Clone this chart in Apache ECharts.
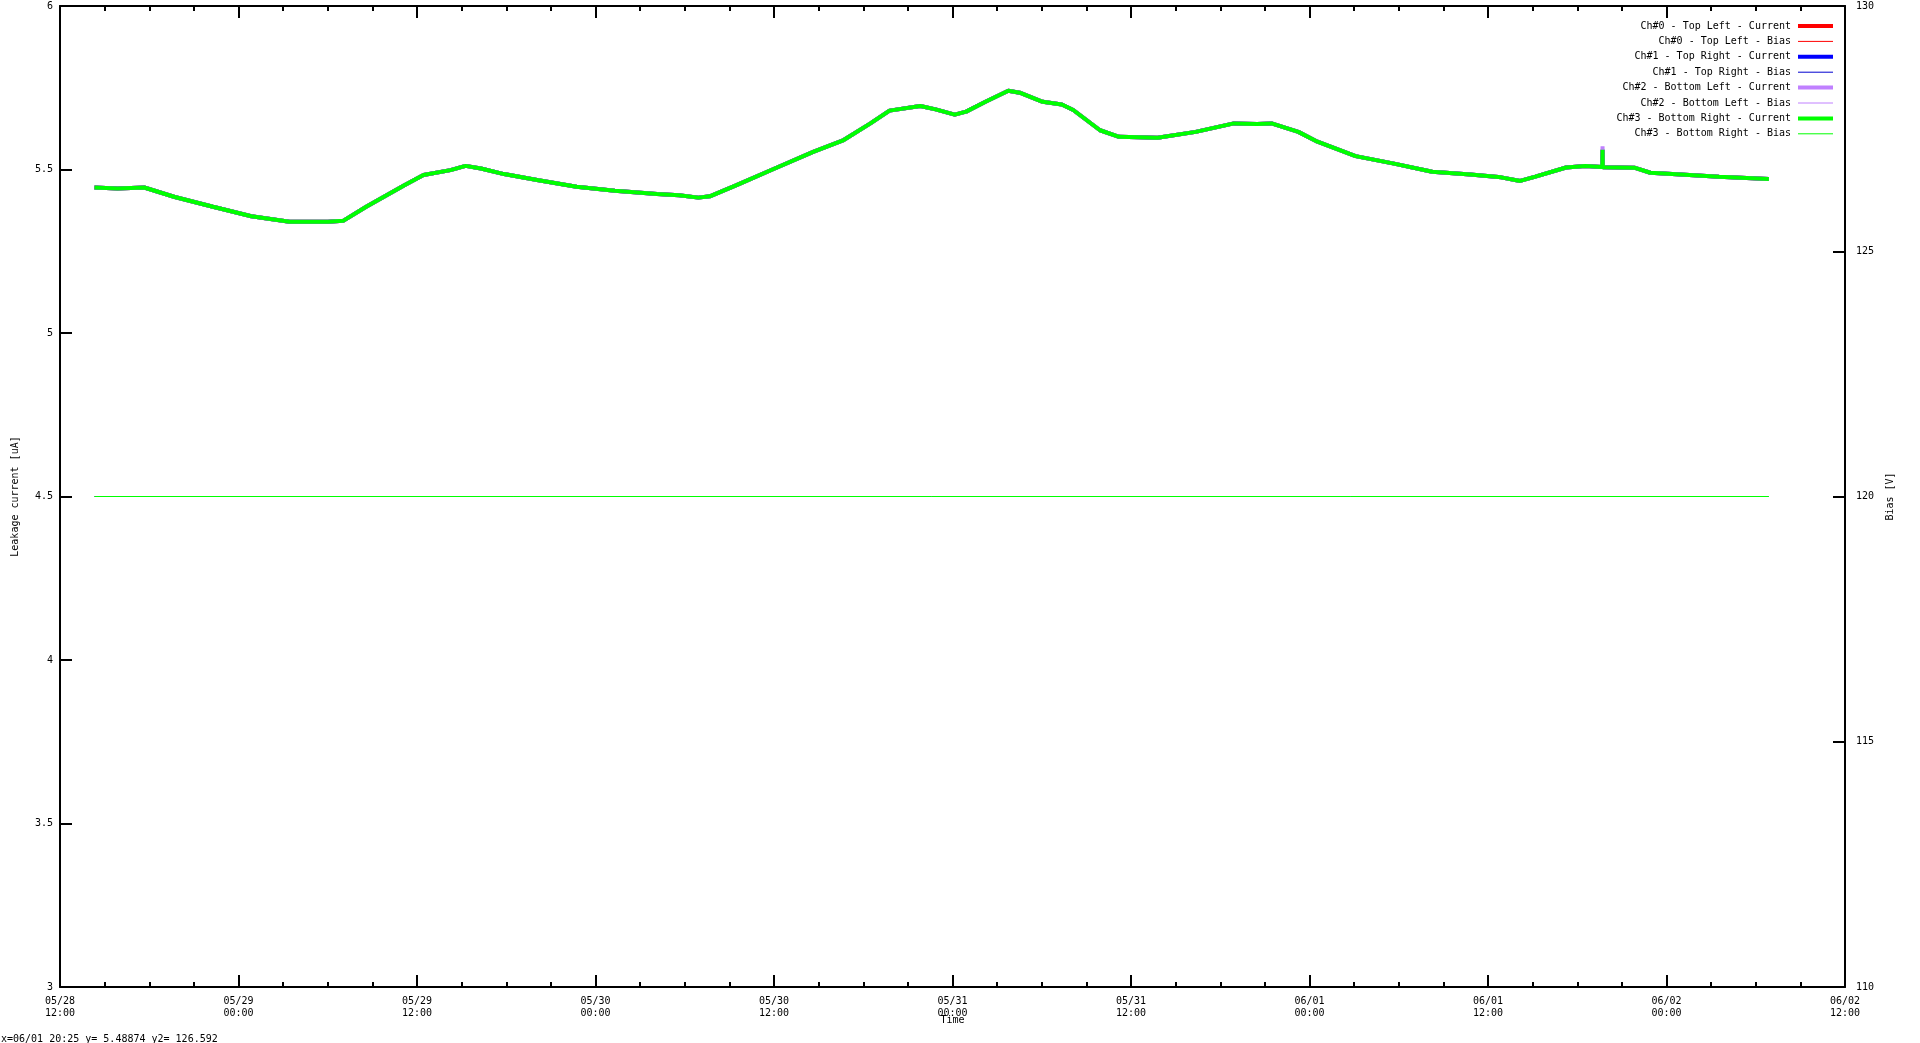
<!DOCTYPE html>
<html><head><meta charset="utf-8">
<script src="https://cdn.jsdelivr.net/npm/echarts@6/dist/echarts.min.js"></script>
<style>html,body{margin:0;padding:0;background:#fff}#c{width:1920px;height:1043px}</style>
</head><body><div id="c"></div>
<script>
const YEAR = 2023;
const xRange = ["05/28 12:00", "06/02 12:00"];
const leftTicks = {min: 3, max: 6, interval: 0.5};
const rightTicks = {min: 110, max: 130, interval: 5};
const seriesNames = [
  "Ch#0 - Top Left - Current", "Ch#0 - Top Left - Bias",
  "Ch#1 - Top Right - Current", "Ch#1 - Top Right - Bias",
  "Ch#2 - Bottom Left - Current", "Ch#2 - Bottom Left - Bias",
  "Ch#3 - Bottom Right - Current", "Ch#3 - Bottom Right - Bias"
];
const seriesColors = ["#ff0000","#ff0000","#0000ff","#0000d0","#c080ff","#c080ff","#00ff00","#00ff00"];
const currentTimes = [
"05/28 14:19","05/28 15:52","05/28 17:40","05/28 19:43","05/28 22:17","05/29 00:52","05/29 03:26","05/29 06:01",
"05/29 07:02","05/29 08:35","05/29 11:09","05/29 12:26","05/29 14:15","05/29 15:16","05/29 16:18","05/29 17:51",
"05/29 20:10","05/29 22:44","05/30 01:18","05/30 04:08","05/30 05:37","05/30 06:55","05/30 07:41","05/30 09:29",
"05/30 12:03","05/30 14:38","05/30 16:41","05/30 18:29","05/30 19:46","05/30 21:50","05/30 22:52","05/31 00:09",
"05/31 00:55","05/31 02:13","05/31 03:45","05/31 04:31","05/31 06:04","05/31 07:21","05/31 08:07","05/31 09:55",
"05/31 11:12","05/31 13:47","05/31 16:21","05/31 18:55","05/31 20:28","05/31 21:27","05/31 23:15","06/01 00:32",
"06/01 03:06","06/01 05:41","06/01 08:15","06/01 10:49","06/01 12:53","06/01 14:10","06/01 15:11","06/01 17:15",
"06/01 18:32","06/01 19:41","06/01 19:42","06/01 19:43","06/01 21:53","06/01 22:55","06/02 00:58","06/02 03:32",
"06/02 06:53"];
const currentValues = [
5.445,5.442,5.445,5.416,5.386,5.357,5.340,5.340,
5.343,5.386,5.452,5.483,5.498,5.511,5.503,5.486,
5.467,5.447,5.435,5.425,5.421,5.414,5.418,5.452,
5.503,5.554,5.590,5.641,5.680,5.694,5.684,5.668,
5.677,5.707,5.741,5.735,5.707,5.699,5.682,5.620,
5.600,5.597,5.615,5.641,5.639,5.641,5.615,5.585,
5.541,5.518,5.493,5.485,5.476,5.465,5.478,5.506,
5.511,5.508,5.560,5.507,5.505,5.490,5.485,5.478,
5.471];
const ch2SpikeTime = "06/01 19:42";
const ch2SpikeValue = 5.571;
const biasTimes = ["05/28 14:19", "06/02 06:53"];
const biasValues = [120, 120];
const cursorText = "x=06/01 20:25 y= 5.48874 y2= 126.592";

function parseT(s) {
  const m = s.match(/(\d+)\/(\d+) (\d+):(\d+)/);
  return Date.UTC(YEAR, +m[1]-1, +m[2], +m[3], +m[4]);
}
function pad(n){return (n<10?'0':'')+n;}
function fmtX(v) {
  const d = new Date(v);
  return pad(d.getUTCMonth()+1)+'/'+pad(d.getUTCDate())+'\n'+pad(d.getUTCHours())+':'+pad(d.getUTCMinutes());
}
const FONT = '"DejaVu Sans Mono", monospace';
const H12 = 12*3600*1000;
const xMin = parseT(xRange[0]), xMax = parseT(xRange[1]);

const series = [];
for (let ch = 0; ch < 4; ch++) {
  const curName = seriesNames[ch*2], biasName = seriesNames[ch*2+1];
  const curData = currentTimes.map((t,i) => [parseT(t), (ch===2 && t===ch2SpikeTime) ? ch2SpikeValue : currentValues[i]]);
  series.push({name: curName, type:'line', xAxisIndex:0, yAxisIndex:0, data: curData, symbol:'none', showSymbol:false,
    lineStyle:{width:4, color: seriesColors[ch*2]}, itemStyle:{color: seriesColors[ch*2]}, silent:true, animation:false});
  series.push({name: biasName, type:'line', xAxisIndex:0, yAxisIndex:1, data: biasTimes.map((t,i)=>[parseT(t), biasValues[i]]),
    symbol:'none', showSymbol:false, lineStyle:{width:1, color: seriesColors[ch*2+1]}, itemStyle:{color: seriesColors[ch*2+1]}, silent:true, animation:false});
}

const axisLine = {show:true, onZero:false, lineStyle:{color:'#000', width:2}};
const tick = {show:true, inside:true, length:12, lineStyle:{color:'#000', width:2}};
const chart = echarts.init(document.getElementById('c'), null, {renderer:'canvas'});
chart.setOption({
  animation:false,
  backgroundColor:'#fff',
  grid:{left:60, right:75, top:6, bottom:56, containLabel:false},
  xAxis:[
    {type:'value', min:xMin, max:xMax, interval:H12, position:'bottom', axisLine, axisTick:tick,
     minorTick:{show:true, splitNumber:4, length:5, lineStyle:{color:'#000', width:2}},
     splitLine:{show:false}, minorSplitLine:{show:false},
     axisLabel:{formatter:fmtX, fontFamily:FONT, fontSize:10, color:'#000', lineHeight:12, margin:8},
     name:'Time', nameLocation:'middle', nameGap:28, nameMoveOverlap:false, nameTextStyle:{fontFamily:FONT, fontSize:10, color:'#000'}},
    {type:'value', min:xMin, max:xMax, interval:H12, position:'top', axisLine, axisTick:tick,
     minorTick:{show:true, splitNumber:4, length:5, lineStyle:{color:'#000', width:2}},
     splitLine:{show:false}, axisLabel:{show:false}}
  ],
  yAxis:[
    {type:'value', min:leftTicks.min, max:leftTicks.max, interval:leftTicks.interval, position:'left', axisLine, axisTick:tick,
     splitLine:{show:false}, axisLabel:{fontFamily:FONT, fontSize:10, color:'#000', margin:7},
     name:'Leakage current [uA]', nameLocation:'middle', nameRotate:90, nameGap:40, nameMoveOverlap:false, nameTextStyle:{fontFamily:FONT, fontSize:10, color:'#000'}},
    {type:'value', min:rightTicks.min, max:rightTicks.max, interval:rightTicks.interval, position:'right', axisLine, axisTick:tick,
     splitLine:{show:false}, axisLabel:{fontFamily:FONT, fontSize:10, color:'#000', margin:11},
     name:'Bias [V]', nameLocation:'middle', nameRotate:90, nameGap:40, nameMoveOverlap:false, nameTextStyle:{fontFamily:FONT, fontSize:10, color:'#000'}}
  ],
  legend:{orient:'vertical', align:'right', right:80, top:16, itemWidth:35, itemHeight:10, itemGap:5.4, selectedMode:false,
    textStyle:{fontFamily:FONT, fontSize:10, color:'#000', padding:[0,2,0,0]},
    data: seriesNames.map((n,i)=>({name:n, lineStyle:{width: i%2===0?4:1}, itemStyle:{opacity:0}}))},
  graphic:[{type:'text', left:1, top:1034, style:{text:cursorText, font:'10px '+FONT, fill:'#000'}}],
  series
});
</script></body></html>
